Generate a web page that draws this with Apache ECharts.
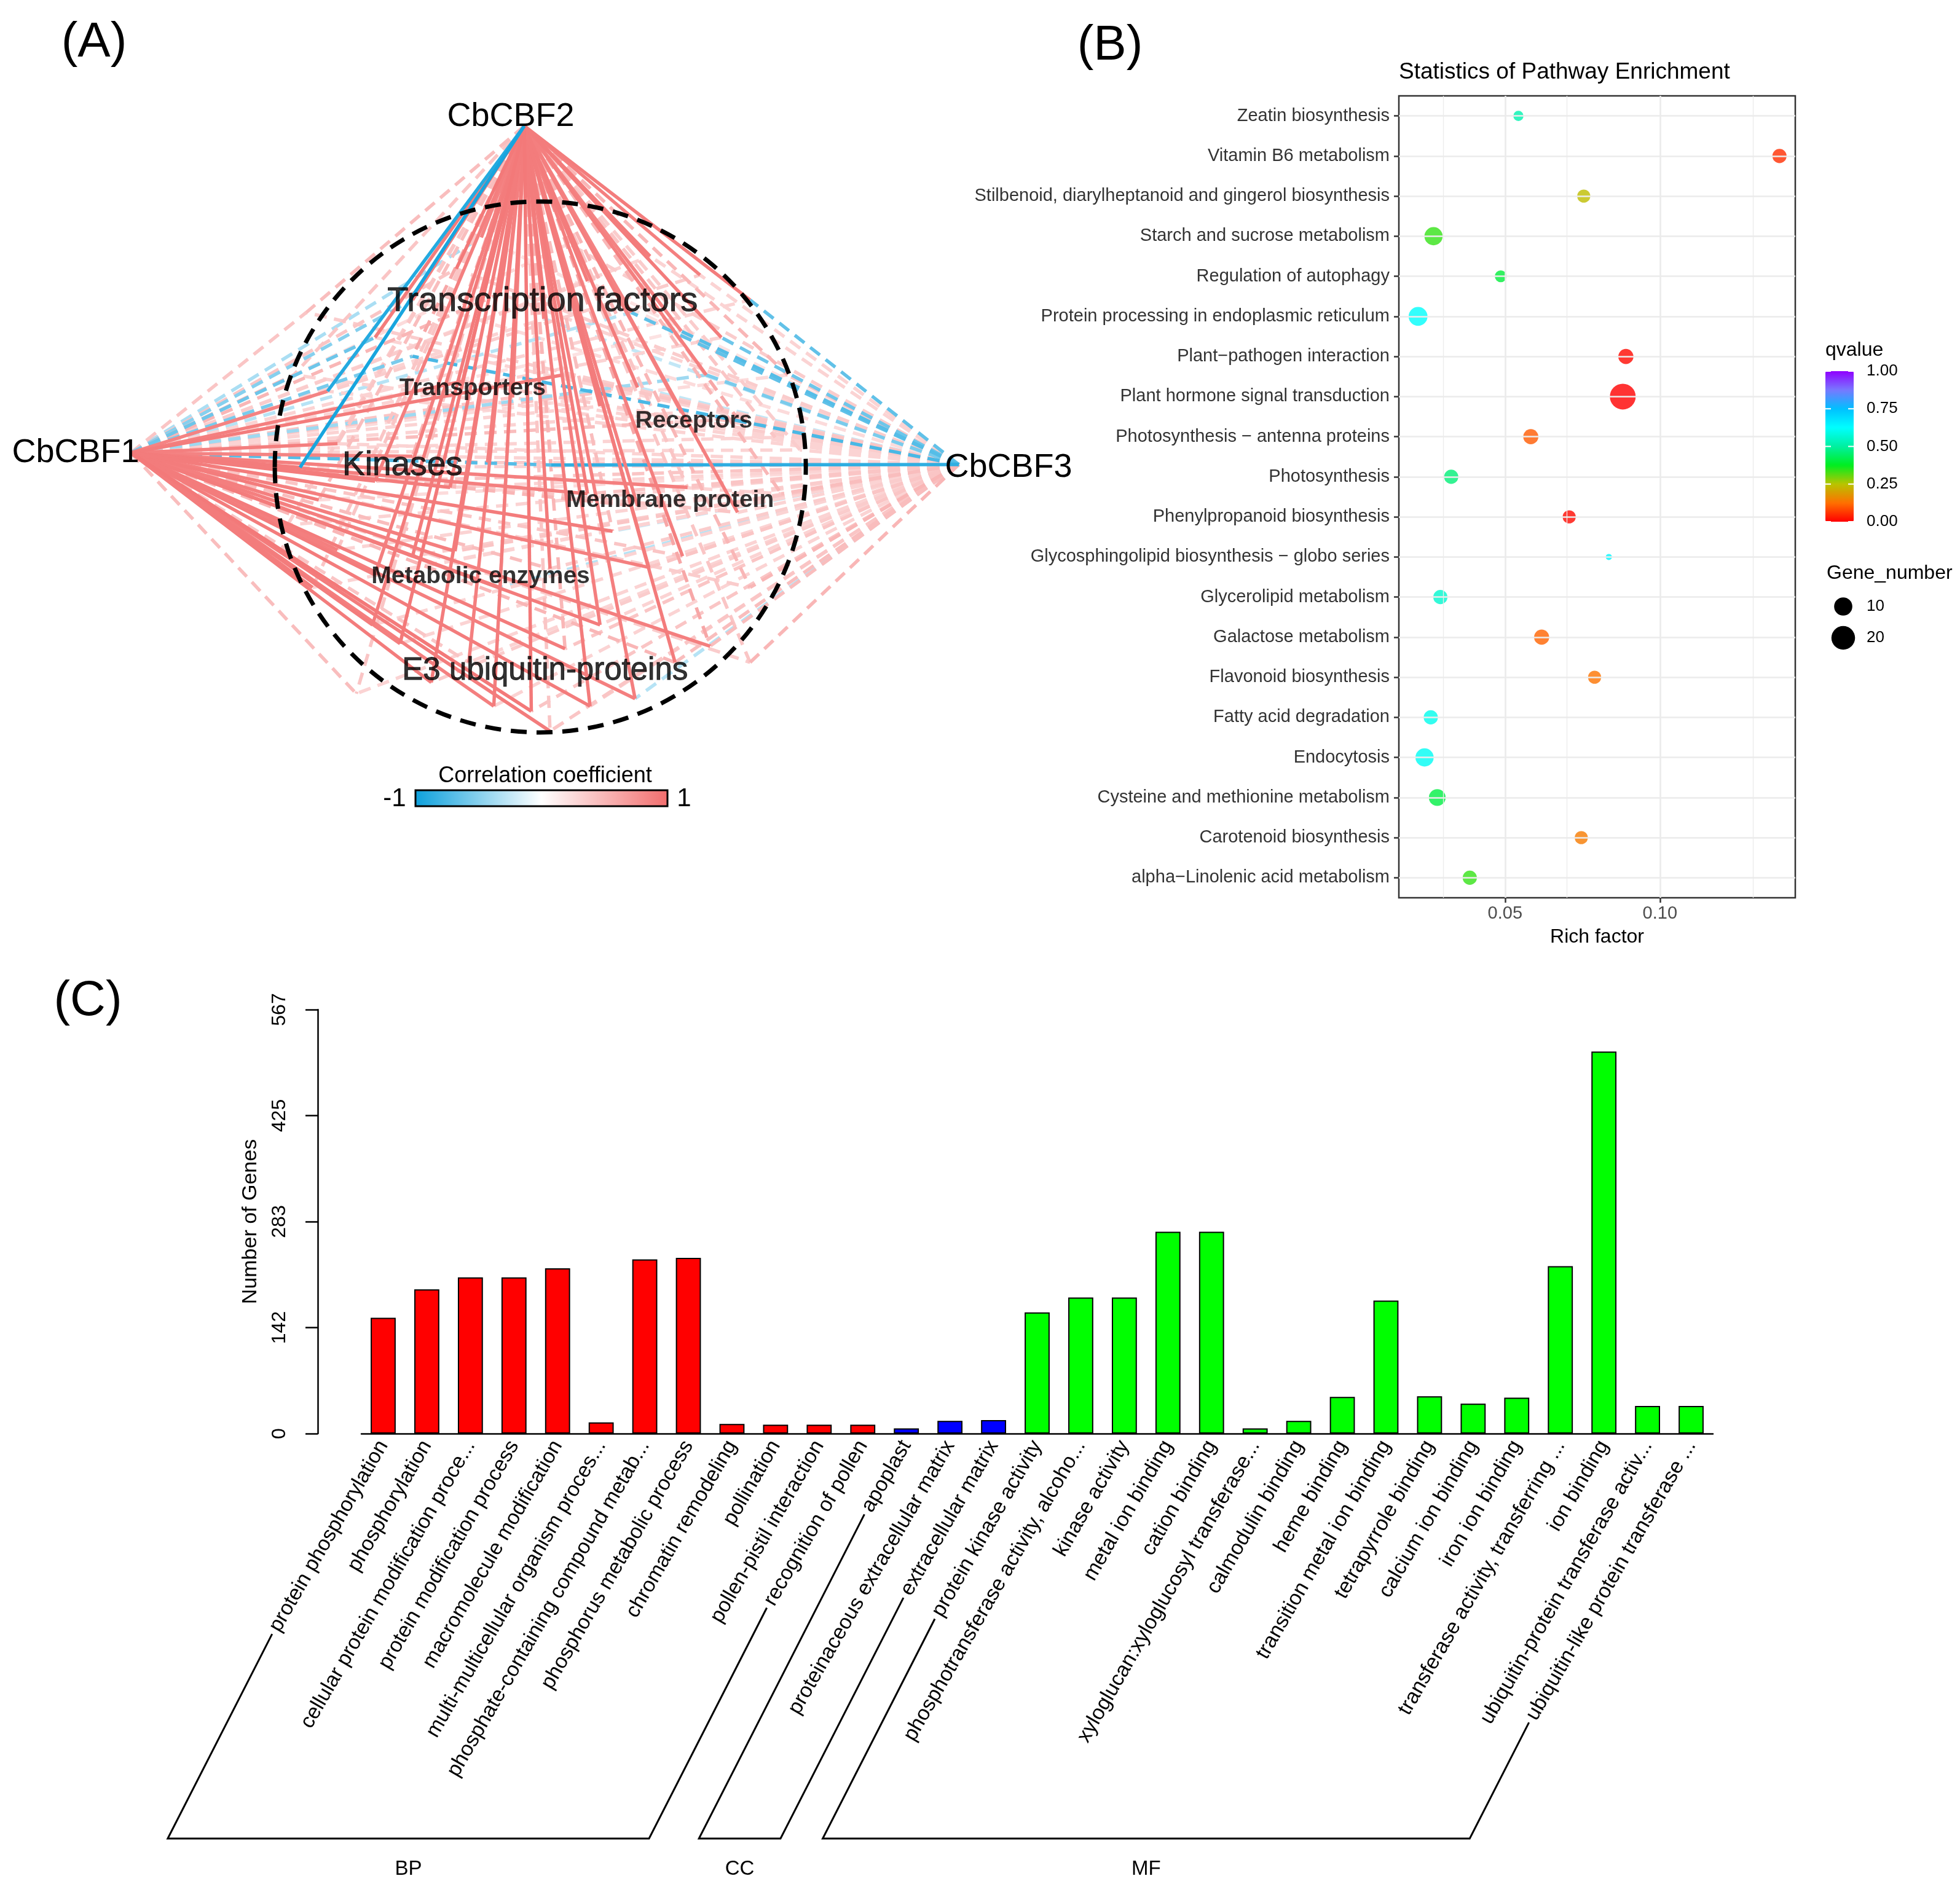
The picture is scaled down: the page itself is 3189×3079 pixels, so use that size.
<!DOCTYPE html>
<html><head><meta charset="utf-8">
<script src="https://cdn.jsdelivr.net/npm/echarts@6/dist/echarts.min.js"></script>
<style>html,body{margin:0;padding:0;background:#fff}#c{width:3189px;height:3079px}</style>
</head><body><div id="c"></div>
<script>
const FONT = '"Liberation Sans", Arial, Helvetica, sans-serif';

// ---------------- Panel A : co-expression network (layout units) ----------------
const hubNames = ['CbCBF1', 'CbCBF2', 'CbCBF3'];
const hubX = [104.7, 419.4, 767.0];
const hubY = [362.3, 100.8, 371.7];
const targetX = [300,330,365,400,435,470,505,545,520,455,385,577, 262,330,370,410,450,480, 510,545,590,620,565, 240,270,300,330,360,390,441,255, 470,510,550,590,625,490, 270,300,330,364,400,440,480,519,546,568,600,250, 298,320,345,395,425,452,472,508,540,375,440, 600,630,640,560,235,230,245,285,600];
const targetY = [270,240,215,235,255,225,250,265,205,195,190,270, 313,285,305,318,300,325, 310,330,335,350,300, 374,355,385,365,390,370,372,400, 395,405,390,410,395,425, 440,460,445,441,470,455,500,454,445,517,470,470, 500,515,546,565,569,519,565,559,530,530,585, 240,300,360,220,300,420,250,555,530];
const corrCBF1 = [-0.6,-0.5,0.4,0.5,0.3,0.35,-0.3,0.2,0.3,0.25,-0.35,0.3, 0.85,-0.55,0.88,0.4,0.9,0.3, 0.4,0.3,0.45,0.3,-0.4, 0.9,0.88,0.9,0.85,0.9,0.5,-0.7,0.9, 0.88,0.5,0.88,0.4,0.3,0.9, 0.88,0.9,0.5,0.88,0.9,0.45,0.9,0.88,0.4,0.88,0.35,0.9, 0.9,0.88,0.9,0.88,0.92,0.9,0.9,0.88,0.5,0.4,0.9, 0.3,0.25,0.3,0.35,0.5,0.45,0.4,0.45,0.35];
const corrCBF2 = [0.9,0.9,0.92,0.9,0.88,0.9,0.85,0.85,0.9,0.5,0.85,0.9, -0.9,0.6,0.9,0.88,0.3,0.9, 0.9,0.85,0.6,0.4,0.88, -0.95,0.4,0.88,0.5,0.9,0.88,0.3,0.45, 0.9,0.88,0.4,0.88,0.5,0.45, 0.4,0.88,0.9,0.9,0.5,0.9,0.88,0.9,0.88,0.6,0.5,0.4, 0.9,0.92,0.9,0.9,0.92,0.5,0.9,0.88,0.9,0.88,0.4, 0.9,0.5,0.35,0.88,0.4,0.35,0.45,0.4,0.4];
const corrCBF3 = [0.3,0.25,0.35,0.3,-0.25,0.2,-0.65,-0.7,0.3,0.35,0.2,-0.6, 0.3,-0.75,0.35,0.3,0.4,0.25, -0.25,0.35,0.4,0.3,-0.55, 0.3,0.3,0.4,0.3,0.3,0.35,-0.85,0.25, 0.4,0.35,0.4,0.3,0.45,-0.25, 0.3,0.3,0.35,0.4,-0.3,0.35,0.3,0.4,0.4,0.45,0.5,0.3, 0.3,0.3,0.35,0.3,0.4,0.4,0.35,-0.3,0.45,0.3,0.4, -0.65,0.4,0.3,0.3,0.3,0.3,0.35,0.3,0.5];
const moduleNames = ['Transcription factors','Transporters','Receptors','Kinases','Membrane protein','Metabolic enzymes','E3 ubiquitin-proteins'];
const moduleX = [434, 378, 555, 322, 536, 384.5, 436];
const moduleY = [241.4, 310.7, 336.8, 372.7, 400.2, 461.2, 536.9];
const circleCenter = [432.2, 373.6];
const circleRadius = 212.4;
const corrTicks = ['-1', '1'];

// ---------------- Panel B : KEGG enrichment ----------------
const pathways = ['Zeatin biosynthesis','Vitamin B6 metabolism','Stilbenoid, diarylheptanoid and gingerol biosynthesis','Starch and sucrose metabolism','Regulation of autophagy','Protein processing in endoplasmic reticulum','Plant\u2212pathogen interaction','Plant hormone signal transduction','Photosynthesis \u2212 antenna proteins','Photosynthesis','Phenylpropanoid biosynthesis','Glycosphingolipid biosynthesis \u2212 globo series','Glycerolipid metabolism','Galactose metabolism','Flavonoid biosynthesis','Fatty acid degradation','Endocytosis','Cysteine and methionine metabolism','Carotenoid biosynthesis','alpha\u2212Linolenic acid metabolism'];
const richFactor = [0.0543,0.1386,0.0754,0.0269,0.0486,0.0219,0.0890,0.0880,0.0583,0.0326,0.0707,0.0835,0.0291,0.0618,0.0789,0.0260,0.0240,0.0281,0.0746,0.0386];
const geneNumber = [2,5,4,10,3,11,6,25,6,5,4,1,5,6,4,5,10,8,4,5];
const qValue = [0.52,0.05,0.24,0.34,0.40,0.62,0.01,0.00,0.10,0.46,0.01,0.64,0.56,0.11,0.13,0.60,0.61,0.41,0.14,0.34];
const richTicks = [0.025, 0.05, 0.075, 0.10, 0.125];
const qTicks = [0, 0.25, 0.5, 0.75, 1];
const geneLegend = [10, 20];

// ---------------- Panel C : GO classification ----------------
const goTerms = ['protein phosphorylation','phosphorylation','cellular protein modification proce...','protein modification process','macromolecule modification','multi-multicellular organism proces...','phosphate-containing compound metab...','phosphorus metabolic process','chromatin remodeling','pollination','pollen-pistil interaction','recognition of pollen','apoplast','proteinaceous extracellular matrix','extracellular matrix','protein kinase activity','phosphotransferase activity, alcoho...','kinase activity','metal ion binding','cation binding','xyloglucan:xyloglucosyl transferase...','calmodulin binding','heme binding','transition metal ion binding','tetrapyrrole binding','calcium ion binding','iron ion binding','transferase activity, transferring ...','ion binding','ubiquitin-protein transferase activ...','ubiquitin-like protein transferase ...'];
const goCounts = [155,193,209,209,221,15,233,235,13,12,12,12,7,17,18,162,182,182,270,270,7,17,49,178,50,40,48,224,511,37,37];
const groupNames = ['BP','CC','MF'];
const groupSizes = [12,3,16];
const groupColors = ['#ff0000','#0000ff','#00ff00'];
const yTickLabels = ['0','142','283','425','567'];

// ---------------- helpers (styling) ----------------
function corrColor(r) {
  const t = Math.min(1, Math.abs(r));
  const c = r >= 0 ? [242,109,109] : [12,160,220];
  const m = c.map(v => Math.round(255 * (1 - t) + v * t));
  return 'rgb(' + m.join(',') + ')';
}
function bubbleSize(n) { return 10 + 32 * Math.sqrt(Math.max(0, n - 1) / 24); }

const nodes = [];
hubNames.forEach((h, i) => {
  const offs = [[-90, 0], [-22, -15], [81, 5]];
  nodes.push({ name: h, value: [hubX[i], hubY[i]], symbolSize: 1,
    itemStyle: { color: 'transparent' },
    label: { show: true, position: 'inside', offset: offs[i], formatter: '{b}', fontSize: 54, color: '#000', fontFamily: FONT } });
});
targetX.forEach((x, i) => nodes.push({ name: 'g' + i, value: [x, targetY[i]], symbolSize: 1, itemStyle: { color: 'transparent' } }));
const links = [];
[corrCBF1, corrCBF2, corrCBF3].forEach((arr, h) => {
  arr.forEach((r, i) => {
    if (r == null) return;
    const strong = Math.abs(r) >= 0.8;
    links.push({ source: h, target: 3 + i, value: r,
      lineStyle: { color: corrColor(r), width: strong ? 5.5 : 5.5, type: strong ? 'solid' : [20, 12], opacity: 1, curveness: 0 } });
  });
});
links.sort((a, b) => Math.abs(a.value) - Math.abs(b.value));

const bigModule = { 0: 56, 3: 55, 6: 51 };
const moduleData = moduleNames.map((n, i) => ({
  name: n, value: [moduleX[i], moduleY[i]],
  label: bigModule[i]
    ? { fontSize: bigModule[i], fontWeight: 'normal', textBorderColor: '#000', textBorderWidth: 1 }
    : { fontSize: 39, fontWeight: 'bold' }
}));

// group membership for bars
const termGroup = [];
groupSizes.forEach((s, g) => { for (let k = 0; k < s; k++) termGroup.push(g); });

const chart = echarts.init(document.getElementById('c'), null, { renderer: 'canvas', width: 3189, height: 3079 });

const option = {
  animation: false,
  backgroundColor: '#ffffff',
  textStyle: { fontFamily: FONT },
  grid: [
    { left: 0, top: 0, width: 865 * 2.034, height: 660 * 2.034 },
    { left: 2276, top: 156, width: 645, height: 1305, show: true, borderColor: '#333', borderWidth: 2.5, backgroundColor: 'transparent' },
    { left: 588, top: 1643, width: 2199, height: 690 }
  ],
  xAxis: [
    { gridIndex: 0, type: 'value', min: 0, max: 865, show: false },
    { gridIndex: 1, type: 'value', min: 0.0157, max: 0.1437, splitNumber: 2,
      axisLine: { show: false },
      axisTick: { show: true, length: 8, lineStyle: { color: '#333', width: 2.5 } },
      axisLabel: { formatter: v => v.toFixed(2), showMinLabel: false, showMaxLabel: false, fontSize: 29, color: '#4d4d4d', margin: 11, fontFamily: FONT },
      splitLine: { show: false },
      name: 'Rich factor', nameLocation: 'middle', nameGap: 48, nameTextStyle: { fontSize: 32, color: '#000', fontFamily: FONT } },
    { gridIndex: 2, type: 'category', data: goTerms,
      axisLine: { lineStyle: { color: '#000', width: 2.5 } },
      axisTick: { interval: 0, length: 19, lineStyle: { color: '#000', width: 2.5 } },
      axisLabel: { interval: 0, rotate: 60, fontSize: 34, color: '#000', margin: 14, fontFamily: FONT } }
  ],
  yAxis: [
    { gridIndex: 0, type: 'value', min: 0, max: 660, inverse: true, show: false },
    { gridIndex: 1, type: 'category', data: pathways, inverse: true,
      axisLine: { show: false },
      axisTick: { show: true, alignWithLabel: true, length: 8, lineStyle: { color: '#333', width: 2.5 } },
      axisLabel: { fontSize: 29, color: '#333', margin: 15, fontFamily: FONT },
      splitLine: { show: false } },
    { gridIndex: 2, type: 'value', min: 0, max: 567, interval: 141.75, offset: 71,
      axisLine: { show: true, lineStyle: { color: '#000', width: 2.5 } },
      axisTick: { show: true, length: 20, lineStyle: { color: '#000', width: 2.5 } },
      axisLabel: { rotate: 90, fontSize: 32, color: '#000', margin: 46, fontFamily: FONT,
        formatter: v => yTickLabels[Math.round(v / 141.75)] },
      splitLine: { show: false },
      name: 'Number of Genes', nameLocation: 'middle', nameGap: 92, nameRotate: 90,
      nameTextStyle: { fontSize: 34, color: '#000', fontFamily: FONT } }
  ],
  visualMap: [{
    type: 'continuous', seriesIndex: 3, dimension: 3, min: 0, max: 1,
    calculable: false, orient: 'vertical', left: 2970, top: 604, padding: 0,
    itemWidth: 46, itemHeight: 245, text: null, hoverLink: false,
    inRange: { color: ['#ff0000','#ff7000','#b8c400','#00ee20','#00f0a0','#00ffff','#00c0ff','#7878ff','#9000ff'] }
  }],
  series: [
    { type: 'graph', layout: 'none', coordinateSystem: 'cartesian2d', xAxisIndex: 0, yAxisIndex: 0,
      data: nodes, links: links, symbol: 'circle', edgeSymbol: ['none', 'none'],
      lineStyle: { opacity: 1 }, emphasis: { disabled: true }, silent: true, z: 2 },
    { type: 'scatter', xAxisIndex: 0, yAxisIndex: 0, data: moduleData, symbolSize: 1,
      itemStyle: { color: 'transparent' }, silent: true, z: 10,
      label: { show: true, position: 'inside', formatter: '{b}', color: '#000', fontFamily: FONT } },
    { type: 'scatter', xAxisIndex: 1, yAxisIndex: 1, data: [], z: 1, silent: true,
      markLine: { silent: true, symbol: ['none', 'none'], label: { show: false },
        data: [
          ...richTicks.map((v, i) => ({ xAxis: v, lineStyle: { color: '#ebebeb', width: (i % 2 === 1) ? 2.6 : 1.3, type: 'solid' } })),
          ...pathways.map(p => ({ yAxis: p, lineStyle: { color: '#ebebeb', width: 2.6, type: 'solid' } }))
        ] } },
    { type: 'scatter', xAxisIndex: 1, yAxisIndex: 1, z: 3, silent: true,
      data: pathways.map((p, i) => [richFactor[i], p, geneNumber[i], qValue[i]]),
      symbolSize: v => bubbleSize(v[2]) },
    { type: 'bar', xAxisIndex: 2, yAxisIndex: 2, barWidth: '57.5%', silent: true,
      data: goCounts.map((v, i) => ({ value: v, itemStyle: { color: groupColors[termGroup[i]] } })),
      itemStyle: { borderColor: '#000', borderWidth: 2 } }
  ]
};
chart.setOption(option);

// ---------------- decorations built from the scales ----------------
function txt(text, x, y, size, opts) {
  opts = opts || {};
  return { type: 'text', z: 60, silent: true,
    style: { text: text, x: x, y: y, font: (opts.weight || 'normal') + ' ' + size + 'px ' + FONT,
      fill: opts.fill || '#000', textFill: opts.fill || '#000',
      align: opts.align || 'center', textAlign: opts.align || 'center',
      verticalAlign: 'middle', textVerticalAlign: 'middle' } };
}
const g = [];
g.push(txt('(A)', 153, 70, 80));
g.push(txt('(B)', 1806, 75, 80));
g.push(txt('(C)', 143, 1630, 80));
g.push(txt('Statistics of Pathway Enrichment', 2276, 118, 37, { align: 'left' }));

// dashed ellipse
const cx = chart.convertToPixel({ xAxisIndex: 0 }, circleCenter[0]);
const cy = chart.convertToPixel({ yAxisIndex: 0 }, circleCenter[1]);
const rx = chart.convertToPixel({ xAxisIndex: 0 }, circleCenter[0] + circleRadius) - cx;
const ry = chart.convertToPixel({ yAxisIndex: 0 }, circleCenter[1] + circleRadius) - cy;
g.push({ type: 'ellipse', z: 50, silent: true, shape: { cx: cx, cy: cy, rx: rx, ry: ry },
  style: { fill: 'none', stroke: '#000', lineWidth: 7, lineDash: [26, 16] } });

// correlation colour bar
g.push({ type: 'rect', z: 50, silent: true, shape: { x: 676, y: 1286, width: 410, height: 26 },
  style: { stroke: '#000', lineWidth: 3,
    fill: new echarts.graphic.LinearGradient(0, 0, 1, 0, [
      { offset: 0, color: corrColor(-1) }, { offset: 0.5, color: '#ffffff' }, { offset: 1, color: corrColor(1) }]) } });
g.push(txt('Correlation coefficient', 887, 1263, 36));
g.push(txt(corrTicks[0], 642, 1300, 42));
g.push(txt(corrTicks[1], 1113, 1300, 42));

// qvalue legend labels & ticks
const qTop = 604, qLen = 245, qLeft = 2970, qW = 46;
g.push(txt('qvalue', 2970, 570, 32, { align: 'left' }));
qTicks.forEach(q => {
  const y = qTop + (1 - q) * qLen;
  g.push(txt(q.toFixed(2), 3037, y, 26, { align: 'left' }));
  g.push({ type: 'line', z: 60, silent: true, shape: { x1: qLeft, y1: y, x2: qLeft + 9, y2: y }, style: { stroke: '#fff', lineWidth: 2 } });
  g.push({ type: 'line', z: 60, silent: true, shape: { x1: qLeft + qW - 9, y1: y, x2: qLeft + qW, y2: y }, style: { stroke: '#fff', lineWidth: 2 } });
});
// Gene_number legend
g.push(txt('Gene_number', 2972, 933, 32, { align: 'left' }));
geneLegend.forEach((n, i) => {
  const y = 987 + i * 51;
  g.push({ type: 'circle', z: 60, silent: true, shape: { cx: 2999, cy: y, r: bubbleSize(n) / 2 }, style: { fill: '#000' } });
  g.push(txt(String(n), 3037, y, 26, { align: 'left' }));
});

// GO group brackets
const ctx = document.createElement('canvas').getContext('2d');
ctx.font = '34px ' + FONT;
const y0 = chart.convertToPixel({ yAxisIndex: 2 }, 0);
const rot = Math.PI / 3;
const baseY = 2992, slope = 1.96;
function labelStart(i) {
  const xc = chart.convertToPixel({ xAxisIndex: 2 }, i);
  const L = ctx.measureText(goTerms[i]).width;
  return [xc - L * Math.cos(rot) - 4, y0 + 14 + L * Math.sin(rot) + 6];
}
let k = 0;
groupNames.forEach((name, gi) => {
  const first = k, last = k + groupSizes[gi] - 1; k += groupSizes[gi];
  const a = labelStart(first), b = labelStart(last);
  const a2 = [a[0] - (baseY - a[1]) / slope, baseY];
  const b2 = [b[0] - (baseY - b[1]) / slope, baseY];
  g.push({ type: 'polyline', z: 50, silent: true, shape: { points: [a, a2, b2, b] },
    style: { fill: 'none', stroke: '#000', lineWidth: 3 } });
  g.push(txt(name, (a2[0] + b2[0]) / 2, baseY + 50, 33));
});

chart.setOption({ graphic: g });
</script></body></html>
